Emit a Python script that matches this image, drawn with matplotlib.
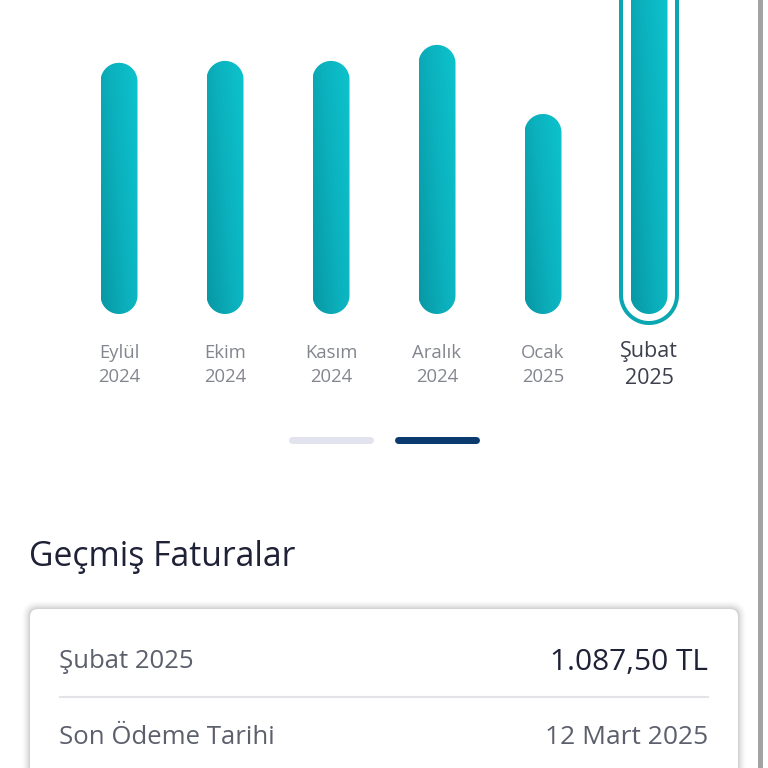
import numpy as np
import matplotlib
matplotlib.use("Agg")
import matplotlib.pyplot as plt
from matplotlib.patches import FancyBboxPatch, Polygon
from matplotlib.colors import LinearSegmentedColormap
from matplotlib.transforms import blended_transform_factory

# ---- data ----
months = ["Eylül", "Ekim", "Kasım", "Aralık", "Ocak", "Şubat"]
years = ["2024", "2024", "2024", "2024", "2025", "2025"]
bills = [800, 806, 806, 857, 637, 1087.50]   # TL
selected = 5
title = "Geçmiş Faturalar"
row_labels = ["Şubat 2025", "Son Ödeme Tarihi"]
row_values = ["1.087,50 TL", "12 Mart 2025"]

plt.rcParams['font.family'] = ['Open Sans', 'DejaVu Sans']

W = H = 768
fig = plt.figure(figsize=(W / 100, H / 100), dpi=100)
fig.patch.set_facecolor("white")

def fx(px):
    return px / W

def fy(py):
    return 1 - py / H

# axes: x slots of 106 px, baseline at 314 px from top
ax_left, ax_right = 66, 702
ax_top, ax_bottom = 0, 340
ax = fig.add_axes([fx(ax_left), fy(ax_bottom), (ax_right - ax_left) / W, (ax_bottom - ax_top) / H])
ax.set_axis_off()
px_per_unit_y = 0.314
base_px = 314
XLIM = (-0.5, len(bills) - 0.5)
YLIM = (-(ax_bottom - base_px) / px_per_unit_y, base_px / px_per_unit_y)
px_per_unit_x = (ax_right - ax_left) / len(bills)


def stadium(xc, y0, y1, w_px):
    """Pill outline (semicircular caps) in data coords."""
    hw = (w_px / 2) / px_per_unit_x
    ry = (w_px / 2) / px_per_unit_y
    t_top = np.linspace(0, np.pi, 60)
    t_bot = np.linspace(np.pi, 2 * np.pi, 60)
    top = np.column_stack([xc + hw * np.cos(t_top), (y1 - ry) + ry * np.sin(t_top)])
    bot = np.column_stack([xc + hw * np.cos(t_bot), (y0 + ry) + ry * np.sin(t_bot)])
    return np.vstack([top, bot])


cmap = LinearSegmentedColormap.from_list("teal", ["#0898a5", "#0bb1bd", "#0dc3cd"])
grad = np.add.outer(np.linspace(0.7, 0, 80), np.linspace(0, 1.3, 20)) / 2

bar_px = 37
for i, v in enumerate(bills):
    p = Polygon(stadium(i, 0, v, bar_px), closed=True, facecolor="none", edgecolor="none")
    ax.add_patch(p)
    hw = (bar_px / 2) / px_per_unit_x
    im = ax.imshow(grad, cmap=cmap, extent=(i - hw, i + hw, 0, v),
                   origin="upper", aspect="auto", interpolation="bilinear", vmin=0, vmax=1)
    im.set_clip_path(p)

    if i == selected:
        off = 9 / px_per_unit_y
        ring = Polygon(stadium(i, -off, v + off, 56), closed=True, facecolor="none",
                       edgecolor="#0aa6b2", linewidth=4 * 0.72, clip_on=False)
        ax.add_patch(ring)

ax.set_aspect("auto")
ax.set_xlim(*XLIM)
ax.set_ylim(*YLIM)

# labels under bars
bt = blended_transform_factory(ax.transData, fig.transFigure)
for i, (m, y) in enumerate(zip(months, years)):
    if i == selected:
        ax.text(i, fy(352), m, transform=bt, ha="center", va="center",
                fontsize=15.5, color="#3d404c", fontweight="medium", clip_on=False)
        ax.text(i, fy(379), y, transform=bt, ha="center", va="center",
                fontsize=15.5, color="#3d404c", fontweight="medium", clip_on=False)
    else:
        ax.text(i, fy(353), m, transform=bt, ha="center", va="center",
                fontsize=13.3, color="#83868e", clip_on=False)
        ax.text(i, fy(377), y, transform=bt, ha="center", va="center",
                fontsize=13.3, color="#83868e", clip_on=False)

# pager indicators
fig.add_artist(plt.Line2D([fx(292), fx(370)], [fy(440), fy(440)], color="#e2e3ee",
                          linewidth=7 * 0.72, solid_capstyle="round"))
fig.add_artist(plt.Line2D([fx(398), fx(476)], [fy(440), fy(440)], color="#0b3a6e",
                          linewidth=7 * 0.72, solid_capstyle="round"))

# section title
fig.text(fx(29), fy(557), title, ha="left", va="center", fontsize=24.3, color="#1f2236")

# card with soft shadow
for k, a in zip(range(8, 0, -1), np.linspace(0.01, 0.035, 8)):
    fig.add_artist(FancyBboxPatch((fx(30 - k), fy(800)), fx(708 + 2 * k), (800 - 609 + k) / H,
                                  boxstyle=f"round,pad=0,rounding_size={fx(8 + k)}",
                                  transform=fig.transFigure, facecolor="#000000",
                                  edgecolor="none", alpha=a))
fig.add_artist(FancyBboxPatch((fx(30), fy(800)), fx(708), (800 - 609) / H,
                              boxstyle=f"round,pad=0,rounding_size={fx(8)}",
                              transform=fig.transFigure, facecolor="white", edgecolor="none"))

# rows
fig.text(fx(59), fy(662), row_labels[0], ha="left", va="center", fontsize=18.5, color="#5c5f6c")
fig.text(fx(708), fy(662), row_values[0], ha="right", va="center", fontsize=21.5,
         fontweight="medium", color="#1f2236")
fig.add_artist(plt.Line2D([fx(60), fx(708)], [fy(697), fy(697)], color="#e3e4e8", linewidth=1.5))
fig.text(fx(59), fy(738), row_labels[1], ha="left", va="center", fontsize=18.5, color="#5c5f6c")
fig.text(fx(708), fy(738), row_values[1], ha="right", va="center", fontsize=19, color="#5c5f6c")

# scrollbar at right edge
fig.add_artist(plt.Line2D([fx(759.5), fx(759.5)], [0, 1], color="#a3a3a3", linewidth=5 * 0.72))

fig.savefig("out.png", dpi=100, facecolor="white")
